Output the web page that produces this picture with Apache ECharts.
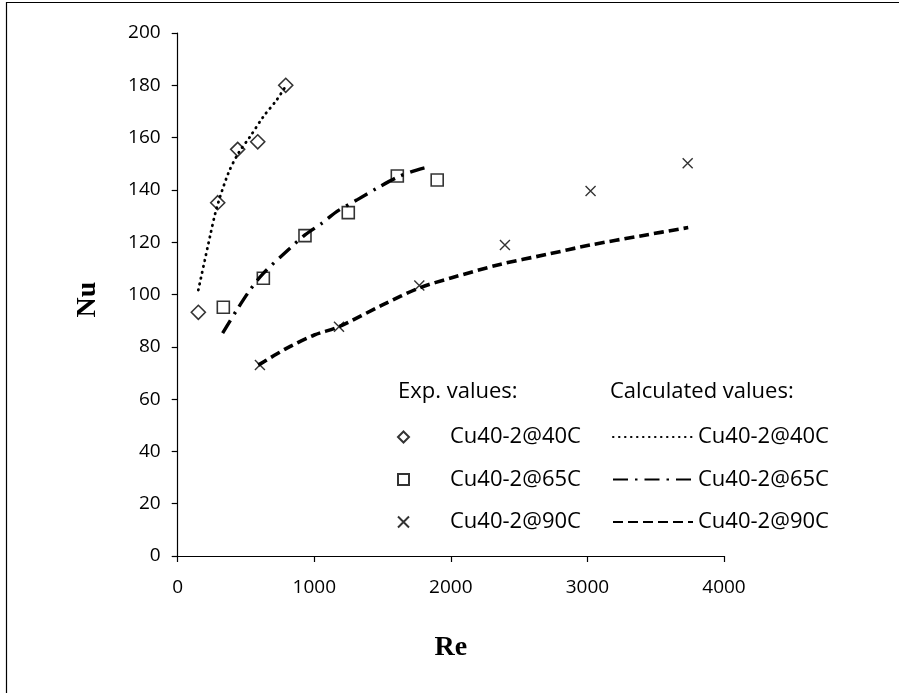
<!DOCTYPE html>
<html>
<head>
<meta charset="utf-8">
<script src="https://cdn.jsdelivr.net/npm/echarts@6/dist/echarts.min.js"></script>
<style>
  html, body { margin: 0; padding: 0; background: #fff; }
  #chart { width: 899px; height: 693px; }
</style>
</head>
<body>
<div id="chart"></div>
<script>
// Axis ticks
const reTicks = [0, 1000, 2000, 3000, 4000];
const nuTicks = [0, 20, 40, 60, 80, 100, 120, 140, 160, 180, 200];

// Legend labels
const expHeader = 'Exp. values:';
const calcHeader = 'Calculated values:';
const sampleNames = ['Cu40-2@40C', 'Cu40-2@65C', 'Cu40-2@90C'];
const calcNames = ['calc 40C', 'calc 65C', 'calc 90C'];

// Measured Nusselt numbers [Re, Nu]
const exp40 = [[151, 93.2], [293, 135.1], [439, 155.5], [586, 158.4], [791, 180]];
const exp65 = [[334, 95.1], [627, 106.2], [932, 122.5], [1249, 131.3], [1608, 145.3], [1900, 143.8]];
const exp90 = [[602, 73.0], [1181, 87.7], [1769, 103.4], [2396, 118.9], [3023, 139.6], [3734, 150.2]];

// Calculated Nusselt numbers [Re, Nu]
const calc40 = [[151, 101.7], [236, 122.1], [285, 133], [370, 146.3], [444, 154], [529, 160.3], [627, 168], [725, 174.4], [791, 179.7]];
const calc65 = [[329, 85.2], [432, 94], [529, 101.7], [627, 108.1], [822, 117.7], [932, 122.8], [1054, 127.2], [1164, 131.7], [1310, 136.1], [1457, 140.6], [1615, 145], [1750, 147.6], [1847, 148.9]];
const calc90 = [[590, 73], [800, 79.5], [1000, 84.5], [1181, 87.7], [1500, 96], [1769, 102.5], [2000, 106.3], [2359, 111.5], [2700, 115.3], [3018, 118.9], [3400, 122.5], [3738, 125.6]];

const font = 'Open Sans';
const labelMap = {};
calcNames.forEach((n, i) => { labelMap[n] = sampleNames[i]; });
sampleNames.forEach(n => { labelMap[n] = n; });

const crossPath = 'path://M0,0L10,10M10,0L0,10';
const hollow = { color: 'rgba(0,0,0,0)', borderColor: '#000', borderWidth: 1.6 };
const legendText = { fontFamily: font, fontSize: 22, color: '#000', lineHeight: 24 };
const headerText = { fontFamily: font, fontSize: 22, fontWeight: 'normal', color: '#000' };
const axisNameText = { fontFamily: 'Liberation Serif', fontWeight: 'bold', fontSize: 28, color: '#000' };

const chart = echarts.init(document.getElementById('chart'), null, { renderer: 'canvas' });

chart.setOption({
  animation: false,
  backgroundColor: '#fff',
  grid: { left: 177.7, right: 175, top: 33, bottom: 137, containLabel: false },
  title: [
    { text: expHeader, left: 398, top: 381, padding: 0, textStyle: headerText },
    { text: calcHeader, left: 610, top: 381, padding: 0, textStyle: headerText }
  ],
  legend: [
    {
      data: sampleNames,
      orient: 'vertical',
      left: 397,
      top: 425,
      padding: 0,
      itemWidth: 11,
      itemHeight: 11,
      itemGap: 18.5,
      formatter: n => labelMap[n],
      textStyle: Object.assign({ padding: [0, 0, 0, 36] }, legendText),
      selectedMode: false
    },
    {
      data: calcNames,
      orient: 'vertical',
      left: 612,
      top: 425,
      padding: 0,
      itemWidth: 80,
      itemHeight: 14,
      itemGap: 18.5,
      formatter: n => labelMap[n],
      itemStyle: { opacity: 0 },
      textStyle: legendText,
      selectedMode: false
    }
  ],
  xAxis: {
    type: 'value',
    min: reTicks[0],
    max: reTicks[reTicks.length - 1],
    interval: 1000,
    name: 'Re',
    nameLocation: 'middle',
    nameGap: 78,
    nameTextStyle: axisNameText,
    axisLine: { onZero: false, lineStyle: { color: '#000', width: 1.2 } },
    axisTick: { show: true, length: 6, lineStyle: { color: '#000', width: 1.2 } },
    axisLabel: { fontFamily: font, fontSize: 19, color: '#000', margin: 22, formatter: v => String(v) },
    splitLine: { show: false }
  },
  yAxis: {
    type: 'value',
    min: nuTicks[0],
    max: nuTicks[nuTicks.length - 1],
    interval: 20,
    name: 'Nu',
    nameLocation: 'middle',
    nameGap: 76,
    nameRotate: 90,
    nameTextStyle: Object.assign({ padding: [0, 10, 0, 0] }, axisNameText),
    axisLine: { show: true, onZero: false, lineStyle: { color: '#000', width: 1.2 } },
    axisTick: { show: true, length: 6, lineStyle: { color: '#000', width: 1.2 } },
    axisLabel: { fontFamily: font, fontSize: 19, color: '#000', margin: 17, formatter: v => String(v) },
    splitLine: { show: false }
  },
  series: [
    {
      name: calcNames[0], type: 'line', data: calc40, smooth: 0.3, symbol: 'none', z: 2,
      itemStyle: { color: '#000' },
      lineStyle: { color: '#000', width: 2.8, type: [0.5, 5.5], cap: 'round' }
    },
    {
      name: calcNames[1], type: 'line', data: calc65, smooth: 0.3, symbol: 'none', z: 2,
      itemStyle: { color: '#000' },
      lineStyle: { color: '#000', width: 3.4, type: [15, 7, 2.5, 7] }
    },
    {
      name: calcNames[2], type: 'line', data: calc90, smooth: 0.3, symbol: 'none', z: 2,
      itemStyle: { color: '#000' },
      lineStyle: { color: '#000', width: 3.6, type: [10, 5] }
    },
    {
      name: sampleNames[0], type: 'scatter', data: exp40, symbol: 'diamond', symbolSize: 14, z: 3,
      itemStyle: hollow
    },
    {
      name: sampleNames[1], type: 'scatter', data: exp65, symbol: 'rect', symbolSize: 12, z: 3,
      itemStyle: hollow
    },
    {
      name: sampleNames[2], type: 'scatter', data: exp90, symbol: crossPath, symbolSize: 10, z: 3,
      itemStyle: { color: 'rgba(0,0,0,0)', borderColor: '#000', borderWidth: 1.4 }
    }
  ],
  graphic: [
    {
      type: 'polyline',
      shape: { points: [[6.5, 700], [6.5, 2.5], [899, 2.5]] },
      style: { stroke: '#000', lineWidth: 1.2, fill: null },
      silent: true
    }
  ]
});
</script>
</body>
</html>
